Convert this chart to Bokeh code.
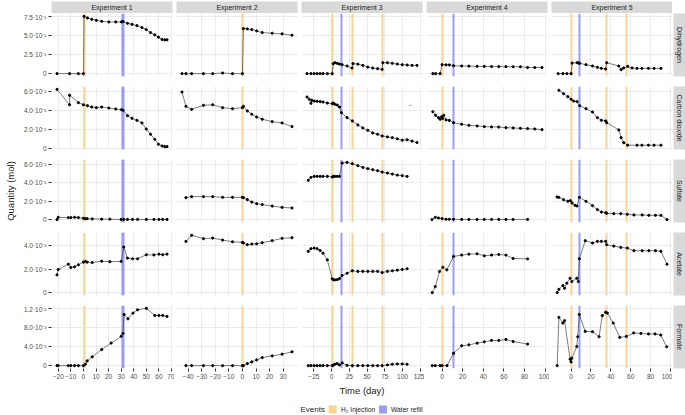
import math
from bokeh.plotting import figure
from bokeh.models import FixedTicker, Range1d, Grid, Row, Column, Spacer
from bokeh.embed import file_html
from bokeh.resources import INLINE
from bokeh.core.properties import value

EXPERIMENTS = ["Experiment 1", "Experiment 2", "Experiment 3", "Experiment 4", "Experiment 5"]
COMPOUNDS = ["Dihydrogen", "Carbon dioxide", "Sulfate", "Acetate", "Formate"]
# values below are given in units of SCALE[compound] mol
SCALE = [1.0, 1e-2, 1e-2, 1e-3, 1e-3]

# ---------------- Experiment 1 ----------------
E1_H2_T = [-21, -11, -4, 0, 0.5, 3.2, 6.6, 10.3, 14.5, 20.2, 25.7, 30.2, 31.5, 35, 38.6, 42.5, 46.5, 49.9, 53.3, 56.7, 59.6, 62.5, 64.6, 66.4]
E1_H2 = [0, 0, 0, 0, 0.75, 0.729, 0.711, 0.698, 0.685, 0.677, 0.677, 0.677, 0.681, 0.659, 0.646, 0.629, 0.603, 0.577, 0.538, 0.508, 0.477, 0.447, 0.443, 0.443]
E1_CO2_T = [-21, -11, -11, -4, 0, 3.2, 6.6, 10.3, 14.5, 20.2, 25.7, 30.2, 31.5, 35, 38.6, 42.5, 46.5, 49.9, 53.3, 56.7, 59.6, 62.5, 64.6, 66.4]
E1_CO2 = [6.24, 4.61, 5.61, 4.83, 4.61, 4.51, 4.37, 4.30, 4.37, 4.26, 4.16, 4.09, 4.02, 3.45, 3.17, 2.96, 2.68, 2.04, 1.48, 0.95, 0.42, 0.24, 0.17, 0.17]
E1_SO4_T = [-21, -20, -12, -10, -7, -4, 0, 1.5, 3, 7, 14.5, 21, 30, 32, 35, 39, 43, 50, 56, 60, 63, 66.4]
E1_SO4 = [0, 0.25, 0.22, 0.22, 0.25, 0.22, 0.14, 0.11, 0.11, 0.08, 0.05, 0.05, 0.02, 0.02, 0.02, 0.02, 0.02, 0.02, 0.02, 0.02, 0.02, 0.02]
E1_ACE_T = [-21, -20, -12, -10, -7, -4, 0, 1.5, 3, 7, 14.5, 21, 30, 32, 35, 39, 43, 50, 56, 60, 63, 66.4]
E1_ACE = [1.5, 1.96, 2.41, 2.13, 2.19, 2.36, 2.58, 2.64, 2.58, 2.55, 2.66, 2.62, 2.64, 3.86, 2.92, 2.87, 2.87, 3.21, 3.19, 3.26, 3.21, 3.26]
E1_FOR_T = [-21, -20, -12, -10, -7, -4, 0, 1.5, 3, 7, 14.5, 22, 30, 31.5, 32.3, 35.4, 39.4, 43, 50, 56.7, 60, 63, 66.4]
E1_FOR = [0, 0, 0, 0, 0, 0, 0, 0.3, 1.0, 1.85, 3.4, 4.77, 6.2, 6.8, 10.8, 9.9, 11.1, 11.8, 12.1, 10.6, 10.6, 10.6, 10.4]

# ---------------- Experiment 2 ----------------
E2_T = [-44.5, -41.6, -37.4, -28.7, -21.9, -14.6, -7.3, 0, 0.7, 3.6, 6.9, 10.5, 14.6, 21.9, 29.2, 36.5]
E2_T_LATE = [-41.6, -37.4, -28.7, -21.9, -14.6, -7.3, 0, 0.7, 3.6, 6.9, 10.5, 14.6, 21.9, 29.2, 36.5]
E2_H2 = [0, 0, 0, 0, 0, 0.008, 0, 0, 0.59, 0.586, 0.577, 0.56, 0.538, 0.529, 0.521, 0.503]
E2_CO2 = [5.96, 4.44, 4.12, 4.55, 4.61, 4.30, 4.19, 4.30, 4.44, 3.95, 3.6, 3.31, 3.07, 2.82, 2.68, 2.29]
E2_SO4 = [2.40, 2.51, 2.51, 2.51, 2.43, 2.43, 2.43, 2.40, 2.18, 1.92, 1.74, 1.64, 1.48, 1.34, 1.27]
E2_ACE = [4.34, 4.85, 4.57, 4.62, 4.45, 4.31, 4.25, 4.2, 4.06, 4.11, 4.13, 4.23, 4.4, 4.6, 4.65]
E2_FOR = [0, 0, 0, 0, 0, 0, 0, 0, 0.43, 0.79, 1.21, 1.7, 2.06, 2.42, 2.91]

# ---------------- Experiment 3 ----------------
E3_H2_T = [-34.7, -29.2, -24.6, -20.4, -16.2, -12.1, -6, 0.9, 2.3, 4.6, 7.9, 11.1, 14.8, 21.8, 28.7, 30.1, 37, 44, 51, 58, 64.8, 71.3, 72.2, 78.7, 85.6, 92.6, 99.6, 106.5, 113.5, 120.4]
E3_H2 = [0, 0, 0, 0, 0, 0, 0, 0, 0.13, 0.143, 0.135, 0.125, 0.117, 0.1, 0.073, 0.13, 0.125, 0.108, 0.086, 0.073, 0.065, 0.056, 0.143, 0.143, 0.135, 0.125, 0.117, 0.113, 0.108, 0.108]
E3_CO2_T = [-34.7, -31.5, -29.2, -27.8, -24.6, -20.4, -16.2, -12.1, -6, 0.9, 2.3, 4.6, 7.9, 11.1, 13.9, 21.8, 29.2, 37, 44, 51, 58, 64.8, 71.3, 78.7, 85.6, 92.6, 99.6, 106.5, 113.5, 120.4]
E3_CO2 = [5.43, 5.19, 4.76, 5.08, 5.0, 4.97, 4.94, 4.9, 4.79, 4.72, 4.79, 4.66, 4.58, 4.37, 3.77, 3.24, 2.89, 2.47, 2.15, 1.9, 1.62, 1.48, 1.3, 1.2, 1.12, 1.0, 0.85, 0.9, 0.75, 0.6]
E3_T = [-32.9, -29.2, -24.6, -20.4, -16.2, -12.1, -6, 0.9, 2.3, 4.6, 7.9, 11.1, 14.8, 21.8, 29.2, 37, 44, 51, 58, 64.8, 71.3, 78.7, 85.6, 92.6, 99.6, 106.5]
E3_SO4 = [4.29, 4.61, 4.72, 4.72, 4.72, 4.72, 4.72, 4.65, 4.72, 4.72, 4.72, 4.72, 6.17, 6.25, 6.1, 5.89, 5.7, 5.56, 5.45, 5.34, 5.19, 5.08, 4.97, 4.86, 4.8, 4.72]
E3_ACE = [3.49, 3.72, 3.77, 3.72, 3.57, 3.34, 2.78, 1.17, 1.1, 1.08, 1.1, 1.19, 1.45, 1.64, 1.85, 1.8, 1.8, 1.8, 1.8, 1.8, 1.7, 1.8, 1.85, 1.9, 1.96, 2.02]
E3_FOR = [0, 0, 0, 0, 0, 0, 0, 0, 0.1, 0.3, 0.43, 0.14, 0.57, 0.07, 0, 0, 0, 0, 0, 0, 0, 0.14, 0.28, 0.35, 0.35, 0.28]
E3_ODD_T = [111]      # isolated blue mark in the carbon dioxide panel
E3_ODD = [4.55]

# ---------------- Experiment 4 ----------------
E4_H2_T = [-9, -6.3, -1.9, 0, 3.8, 7, 11.1, 19, 26, 34, 41, 48, 55, 62, 69, 76, 83, 90, 97]
E4_H2 = [0, 0, 0, 0.117, 0.115, 0.114, 0.104, 0.1, 0.098, 0.096, 0.095, 0.093, 0.092, 0.091, 0.09, 0.09, 0.08, 0.08, 0.08]
E4_CO2_T = [-9, -6.3, -3.5, -1.9, -0.5, 0.5, 1.6, 3.8, 7, 11.1, 19, 26, 34, 41, 48, 55, 62, 69, 76, 83, 90, 97]
E4_CO2 = [3.87, 3.49, 3.24, 3.07, 3.34, 3.15, 3.49, 3.0, 2.95, 2.71, 2.54, 2.43, 2.36, 2.29, 2.26, 2.24, 2.18, 2.15, 2.11, 2.08, 2.04, 1.97]
E4_SO4_T = [-9.8, -6.6, -3.5, 0, 3.8, 7, 11.1, 19, 26, 34, 41, 48, 55, 62, 69, 83]
E4_SO4 = [0, 0.25, 0.18, 0.11, 0.04, 0.04, 0.04, 0.02, 0.02, 0.02, 0.02, 0.02, 0.02, 0.02, 0.02, 0.02]
E4_ACE_T = [-9.5, -6.6, -2.5, 0.7, 4.6, 11.1, 19, 26, 34, 41, 48, 55, 62, 69, 83]
E4_ACE = [0, 0.51, 1.79, 2.15, 1.93, 3.06, 3.18, 3.26, 3.29, 3.12, 3.18, 3.23, 3.18, 2.89, 2.86]
E4_FOR_T = [-9.5, -6.6, -1.9, 0, 4.8, 11.1, 19, 26, 34, 41, 48, 55, 62, 69, 83]
E4_FOR = [0, 0, 0, 0, 0, 2.6, 4.2, 4.4, 4.75, 5.04, 5.32, 5.32, 5.53, 5.1, 4.55]

# ---------------- Experiment 5 ----------------
E5_H2_T = [-13, -8.3, -4.3, 0, 1, 6, 7.6, 8.6, 15, 21.6, 26.5, 30.5, 34.8, 35.8, 48, 50.4, 53, 57, 61.4, 66.4, 71.3, 77.9, 83.6, 90.5]
E5_H2 = [0, 0, 0, 0, 0.138, 0.143, 0.14, 0.135, 0.117, 0.1, 0.082, 0.069, 0.06, 0.143, 0.1, 0.052, 0.074, 0.095, 0.074, 0.069, 0.069, 0.069, 0.069, 0.069]
E5_CO2_T = [-12.3, -7.6, -3.3, 0, 2.7, 6, 8.6, 15, 21.6, 26.5, 30.5, 34.8, 35.8, 48, 50.4, 53, 57, 66.4, 71.3, 77.9, 83.6, 90.5]
E5_CO2 = [6.14, 5.78, 5.46, 5.19, 5.0, 4.94, 4.51, 4.19, 3.84, 3.24, 2.96, 2.89, 2.71, 1.94, 1.12, 0.59, 0.32, 0.32, 0.32, 0.32, 0.32, 0.32]
E5_SO4_T = [-14.2, -12.3, -7.6, -3.3, -0.7, 1, 4, 6, 8.3, 15, 21.6, 26.5, 30.5, 34.8, 35.8, 43, 50, 56.7, 63.3, 71.6, 78.3, 85, 90.5, 96.6]
E5_SO4 = [2.47, 2.43, 2.18, 2.0, 2.07, 1.81, 1.56, 1.49, 2.43, 2.0, 1.52, 1.09, 0.83, 0.76, 0.69, 0.65, 0.65, 0.58, 0.51, 0.51, 0.47, 0.47, 0.47, 0]
E5_ACE_T = [-14, -12.3, -8.3, -6.6, -4.3, -1, 0.7, 5.7, 7.3, 8.3, 14.3, 21.6, 26.5, 30.5, 34.8, 35.8, 43, 50, 56.7, 63.3, 71.6, 78.3, 85, 90.5, 96.6]
E5_ACE = [0, 0.28, 0.6, 0.37, 0.8, 1.22, 0.94, 1.22, 0.94, 2.87, 4.4, 4.2, 4.34, 4.34, 4.34, 4.06, 3.94, 3.83, 3.77, 3.55, 3.55, 3.55, 3.55, 3.5, 2.41]
E5_FOR_T = [-14, -12.3, -8.3, -6.6, -1, 0, 0.7, 5.7, 6.7, 8.3, 14.3, 21.6, 28.2, 31.4, 34.8, 36.5, 42.4, 49, 55.7, 63, 70.3, 78, 84.6, 90.3, 96.3]
E5_FOR = [0, 10.2, 9.0, 9.5, 1.35, 0.79, 1.56, 4.04, 6.1, 10.8, 7.23, 7.17, 6.1, 10.57, 11.28, 11.1, 9.0, 5.96, 6.17, 6.9, 6.8, 6.7, 6.7, 6.47, 3.98]

# ---------------- Events (day) ----------------
H2_INJECTION = [[0.5], [0.3], [1.4, 29.2, 72.2], [0.0], [0.7, 35.5, 55.7]]
WATER_REFILL = [[31.0, 32.0], [], [14.2], [11.1], [8.6]]

# ---------------- Axis ticks ----------------
X_TICKS = [list(range(-20, 71, 10)), list(range(-40, 31, 10)), list(range(-25, 126, 25)),
           list(range(0, 101, 20)), list(range(0, 101, 20))]
Y_TICKS = [[0, 0.25, 0.5, 0.75], [0, 0.02, 0.04, 0.06], [0, 0.02, 0.04, 0.06],
           [0, 0.002, 0.004], [0, 0.004, 0.008, 0.012]]
Y_LABELS = [["0", "2.5·10⁻¹", "5.0·10⁻¹", "7.5·10⁻¹"],
            ["0", "2.0·10⁻²", "4.0·10⁻²", "6.0·10⁻²"],
            ["0", "2.0·10⁻²", "4.0·10⁻²", "6.0·10⁻²"],
            ["0", "2.0·10⁻³", "4.0·10⁻³"],
            ["0", "4.0·10⁻³", "8.0·10⁻³", "1.2·10⁻²"]]

PANELS = [
    [(E1_H2_T, E1_H2), (E2_T, E2_H2), (E3_H2_T, E3_H2), (E4_H2_T, E4_H2), (E5_H2_T, E5_H2)],
    [(E1_CO2_T, E1_CO2), (E2_T, E2_CO2), (E3_CO2_T, E3_CO2), (E4_CO2_T, E4_CO2), (E5_CO2_T, E5_CO2)],
    [(E1_SO4_T, E1_SO4), (E2_T_LATE, E2_SO4), (E3_T, E3_SO4), (E4_SO4_T, E4_SO4), (E5_SO4_T, E5_SO4)],
    [(E1_ACE_T, E1_ACE), (E2_T_LATE, E2_ACE), (E3_T, E3_ACE), (E4_ACE_T, E4_ACE), (E5_ACE_T, E5_ACE)],
    [(E1_FOR_T, E1_FOR), (E2_T_LATE, E2_FOR), (E3_T, E3_FOR), (E4_FOR_T, E4_FOR), (E5_FOR_T, E5_FOR)],
]

# ---------------- Style ----------------
FONT = "Liberation Sans"
INJ_COLOR = "#FAD48F"
REF_COLOR = "#9B9BF8"
STRIP_BG = "#D9D9D9"
GRID_COLOR = "#EBEBEB"
TICK_TXT = "#4D4D4D"

COL_W = [174, 125, 125, 125, 123]
COL_BL = [51, 2, 2, 2, 2]
COL_BR = [2, 2, 2, 2, 0]
ROW_H = [73, 73, 73, 73, 79]
ROW_BB = [10, 10, 10, 10, 16]


def expand(lo, hi, f=0.05):
    d = (hi - lo) * f
    return lo - d, hi + d


x_ranges = []
for c in range(5):
    ts = [t for r in range(5) for t in PANELS[r][c][0]]
    x_ranges.append(expand(min(ts), max(ts)))
y_ranges = []
for r in range(5):
    vs = [v * SCALE[r] for c in range(5) for v in PANELS[r][c][1]]
    y_ranges.append(expand(min(vs), max(vs)))


def base_fig(**kw):
    p = figure(toolbar_location=None, output_backend="svg", **kw)
    p.outline_line_color = None
    p.border_fill_color = "white"
    p.grid.visible = False          # default grids are replaced or not wanted
    return p


def panel(r, c):
    p = base_fig(width=COL_W[c], height=ROW_H[r],
                 x_range=Range1d(*x_ranges[c]), y_range=Range1d(*y_ranges[r]),
                 x_axis_location="below" if r == 4 else None,
                 y_axis_location="left" if c == 0 else None,
                 min_border_left=COL_BL[c], min_border_right=COL_BR[c],
                 min_border_top=0, min_border_bottom=ROW_BB[r])
    p.background_fill_color = "white"
    p.add_layout(Grid(dimension=0, ticker=FixedTicker(ticks=X_TICKS[c]),
                      grid_line_color=GRID_COLOR, grid_line_width=1))
    p.add_layout(Grid(dimension=1, ticker=FixedTicker(ticks=Y_TICKS[r]),
                      grid_line_color=GRID_COLOR, grid_line_width=1))
    if r == 4:
        ax = p.xaxis[0]
        ax.ticker = FixedTicker(ticks=X_TICKS[c])
        ax.axis_line_color = None
        ax.major_tick_line_color = "#333333"
        ax.major_tick_out = 3
        ax.major_tick_in = 0
        ax.minor_tick_line_color = None
        ax.major_label_standoff = 2
        ax.major_label_text_font = FONT
        ax.major_label_text_font_size = "6.5px"
        ax.major_label_text_color = TICK_TXT
    if c == 0:
        ay = p.yaxis[0]
        ay.ticker = FixedTicker(ticks=Y_TICKS[r])
        ay.major_label_overrides = dict(zip(Y_TICKS[r], Y_LABELS[r]))
        ay.axis_line_color = None
        ay.major_tick_line_color = "#333333"
        ay.major_tick_out = 3
        ay.major_tick_in = 0
        ay.minor_tick_line_color = None
        ay.major_label_standoff = 2
        ay.major_label_text_font = FONT
        ay.major_label_text_font_size = "6.5px"
        ay.major_label_text_color = TICK_TXT
        if r == 2:
            ay.axis_label = "Quantity (mol)"
            ay.axis_label_text_font = FONT
            ay.axis_label_text_font_size = "9.5px"
            ay.axis_label_text_font_style = "normal"
            ay.axis_label_text_color = "#1A1A1A"
            ay.axis_label_standoff = 5
    # events
    if H2_INJECTION[c]:
        p.vspan(x=H2_INJECTION[c], line_color=INJ_COLOR, line_width=2)
    if WATER_REFILL[c]:
        p.vspan(x=WATER_REFILL[c], line_color=REF_COLOR, line_width=2)
    t, v = PANELS[r][c]
    y = [val * SCALE[r] for val in v]
    p.line(t, y, line_color="#262626", line_width=0.6)
    p.scatter(t, y, size=2.2, color="black")
    if r == 1 and c == 2:
        p.scatter(E3_ODD_T, [val * SCALE[r] for val in E3_ODD], marker="dash",
                  size=3, line_color=REF_COLOR, line_width=1)
    return p


def col_strip(c):
    p = base_fig(width=COL_W[c], height=13, x_range=Range1d(0, 1), y_range=Range1d(0, 1),
                 x_axis_location=None, y_axis_location=None,
                 min_border_left=COL_BL[c], min_border_right=COL_BR[c],
                 min_border_top=1, min_border_bottom=0)
    p.background_fill_color = STRIP_BG
    p.text(x=[0.5], y=[0.5], text=[EXPERIMENTS[c]], text_align="center", text_baseline="middle",
           text_font=value(FONT), text_font_size="7px", text_color="#1A1A1A")
    return p


def row_strip(r):
    p = base_fig(width=13, height=ROW_H[r], x_range=Range1d(0, 1), y_range=Range1d(0, 1),
                 x_axis_location=None, y_axis_location=None,
                 min_border_left=1, min_border_right=0,
                 min_border_top=0, min_border_bottom=ROW_BB[r])
    p.background_fill_color = STRIP_BG
    p.text(x=[0.5], y=[0.5], text=[COMPOUNDS[r]], angle=-math.pi / 2,
           text_align="center", text_baseline="middle",
           text_font=value(FONT), text_font_size="7px", text_color="#1A1A1A")
    return p


def bottom():
    p = base_fig(width=685, height=31, x_range=Range1d(0, 685), y_range=Range1d(0, 31),
                 x_axis_location=None, y_axis_location=None,
                 min_border_left=0, min_border_right=0, min_border_top=0, min_border_bottom=0)
    p.background_fill_color = "white"
    p.text(x=[361.5], y=[25], text=["Time (day)"], text_align="center", text_baseline="middle",
           text_font=value(FONT), text_font_size="9.5px", text_color="#1A1A1A")
    p.text(x=[300], y=[6], text=["Events"], text_align="left", text_baseline="middle",
           text_font=value(FONT), text_font_size="8px", text_color="#1A1A1A")
    p.rect(x=[332.2], y=[6], width=8, height=8, fill_color=INJ_COLOR, line_color=None)
    p.text(x=[340.5], y=[6], text=["H₂ Injection"], text_align="left", text_baseline="middle",
           text_font=value(FONT), text_font_size="6.7px", text_color="#1A1A1A")
    p.rect(x=[382.5], y=[6], width=8, height=8, fill_color=REF_COLOR, line_color=None)
    p.text(x=[390.5], y=[6], text=["Water refill"], text_align="left", text_baseline="middle",
           text_font=value(FONT), text_font_size="6.7px", text_color="#1A1A1A")
    return p


rows = [Row(children=[col_strip(c) for c in range(5)] + [Spacer(width=13, height=13)], spacing=0)]
for r in range(5):
    rows.append(Row(children=[panel(r, c) for c in range(5)] + [row_strip(r)], spacing=0))
rows.append(bottom())
layout = Column(children=rows, spacing=0)

with open("out.html", "w") as f:
    f.write(file_html(layout, INLINE))
